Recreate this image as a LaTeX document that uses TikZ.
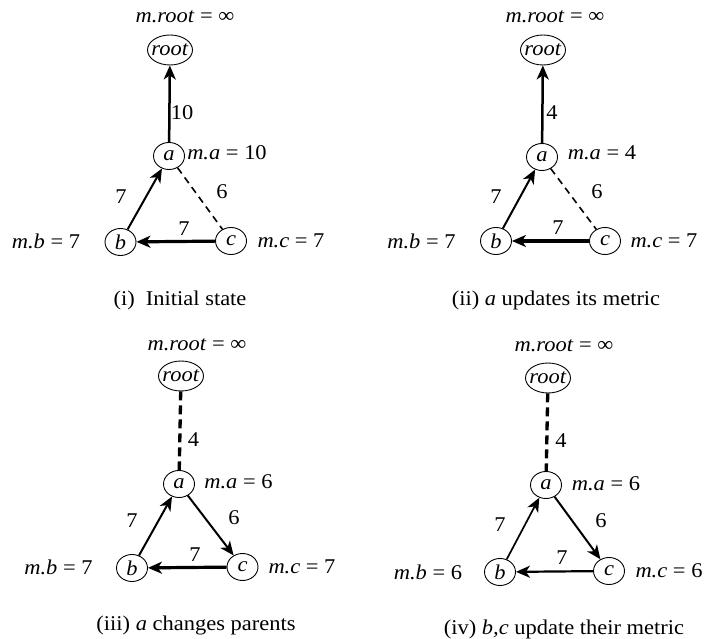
\documentclass[tikz,border=0pt]{standalone}
\usepackage{fontspec}
\setmainfont{Liberation Serif}[FakeStretch=1.07]
\usetikzlibrary{arrows.meta,shapes.geometric}
\begin{document}
\begin{tikzpicture}[x=1pt,y=-1pt,
  every node/.style={font=\fontsize{21}{25}\selectfont},
  vnode/.style={ellipse,draw,line width=0.9pt,inner sep=0pt,minimum width=31pt,minimum height=27pt,label={center:#1}},
  rnode/.style={ellipse,draw,line width=0.9pt,inner sep=0pt,minimum width=45pt,minimum height=30pt,label={center:#1}},
  arr/.style={-{Stealth[length=14pt,width=12pt,inset=4pt]}},
  thindash/.style={line width=1.6pt,dash pattern=on 7pt off 5pt},
  thickdash/.style={line width=3.3pt,dash pattern=on 9pt off 5pt},
  txt/.style={inner sep=0pt}
]
\useasboundingbox (0,0) rectangle (705,639);

% ---------- Panel (i)
\node[txt] (mr1) at (185,17) {\textit{m.root} = ∞};
\node[rnode=\textit{root}] (r1) at (170,50) {};
\node[vnode=\textit{a}] (a1) at (169,156) {};
\node[vnode=\textit{b}] (b1) at (120.5,242) {};
\node[vnode=\textit{c}] (c1) at (231,241) {};
\draw[arr,line width=2.5pt] (a1) -- (r1);
\draw[arr,line width=2pt] (b1) -- (a1);
\draw[arr,line width=3.2pt] (c1) -- (b1);
\draw[thindash] (a1) -- (c1);
\node[txt] (l1ra) at (182,113) {10};
\node[txt] (l1ba) at (121,197) {7};
\node[txt] (l1ac) at (222,192) {6};
\node[txt] (l1cb) at (184,229) {7};
\node[txt] (ma1) at (227,153) {\textit{m.a} = 10};
\node[txt] (mb1) at (46,241) {\textit{m.b} = 7};
\node[txt] (mc1) at (291,241) {\textit{m.c} = 7};
\node[txt] (cap1) at (180,300) {(i)\ \ Initial state};

% ---------- Panel (ii)
\node[txt] (mr2) at (555,17) {\textit{m.root} = ∞};
\node[rnode=\textit{root}] (r2) at (543,50) {};
\node[vnode=\textit{a}] (a2) at (542,157) {};
\node[vnode=\textit{b}] (b2) at (496,241) {};
\node[vnode=\textit{c}] (c2) at (605,241) {};
\draw[arr,line width=2.5pt] (a2) -- (r2);
\draw[arr,line width=2pt] (b2) -- (a2);
\draw[arr,line width=3.2pt] (c2) -- (b2);
\draw[thindash] (a2) -- (c2);
\node[txt] (l2ra) at (552,113) {4};
\node[txt] (l2ba) at (496,197) {7};
\node[txt] (l2ac) at (597,192) {6};
\node[txt] (l2cb) at (558,228) {7};
\node[txt] (ma2) at (602,153) {\textit{m.a} = 4};
\node[txt] (mb2) at (421.5,241) {\textit{m.b} = 7};
\node[txt] (mc2) at (664,241) {\textit{m.c} = 7};
\node[txt] (cap2) at (556,300) {(ii) \textit{a} updates its metric};

% ---------- Panel (iii)
\node[txt] (mr3) at (197,345) {\textit{m.root} = ∞};
\node[rnode=\textit{root}] (r3) at (181,376) {};
\node[vnode=\textit{a}] (a3) at (179,484) {};
\node[vnode=\textit{b}] (b3) at (132,568) {};
\node[vnode=\textit{c}] (c3) at (242.5,567) {};
\draw[thickdash] (r3) -- (a3);
\draw[arr,line width=2pt] (b3) -- (a3);
\draw[arr,line width=2pt] (a3) -- (c3);
\draw[arr,line width=3.2pt] (c3) -- (b3);
\node[txt] (l3ra) at (193.5,440) {4};
\node[txt] (l3ba) at (132,521) {7};
\node[txt] (l3ac) at (234,518) {6};
\node[txt] (l3cb) at (195,555) {7};
\node[txt] (ma3) at (238.5,482) {\textit{m.a} = 6};
\node[txt] (mb3) at (58.5,567) {\textit{m.b} = 7};
\node[txt] (mc3) at (302,567) {\textit{m.c} = 7};
\node[txt] (cap3) at (196,625) {(iii) \textit{a} changes parents};

% ---------- Panel (iv)
\node[txt] (mr4) at (564,346) {\textit{m.root} = ∞};
\node[rnode=\textit{root}] (r4) at (548,378) {};
\node[vnode=\textit{a}] (a4) at (546,485) {};
\node[vnode=\textit{b}] (b4) at (500,572) {};
\node[vnode=\textit{c}] (c4) at (609,571) {};
\draw[thickdash] (r4) -- (a4);
\draw[arr,line width=1.7pt] (b4) -- (a4);
\draw[arr,line width=2pt] (a4) -- (c4);
\draw[arr,line width=2.2pt] (c4) -- (b4);
\node[txt] (l4ra) at (561,441) {4};
\node[txt] (l4ba) at (500,525) {7};
\node[txt] (l4ac) at (601,521) {6};
\node[txt] (l4cb) at (562,558) {7};
\node[txt] (ma4) at (606,484) {\textit{m.a} = 6};
\node[txt] (mb4) at (428,572) {\textit{m.b} = 6};
\node[txt] (mc4) at (669,571) {\textit{m.c} = 6};
\node[txt] (cap4) at (564,629) {(iv) \textit{b,c} update their metric};
\end{tikzpicture}
\end{document}
